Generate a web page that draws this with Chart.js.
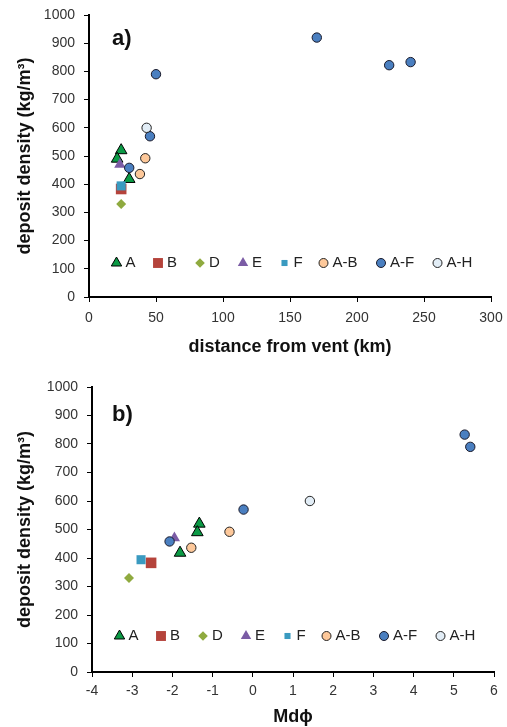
<!DOCTYPE html>
<html><head><meta charset="utf-8">
<script src="https://cdn.jsdelivr.net/npm/chart.js@4.4.0/dist/chart.umd.min.js"></script>
<style>
html,body{margin:0;padding:0;background:#fff;}
#wrap{position:relative;width:507px;height:727px;overflow:hidden;background:#fff;}
canvas{position:absolute;left:0;}
#c1{top:0;} #c2{top:362px;}
.lab{position:absolute;left:112px;font:bold 22px/1 "Liberation Sans",Arial,sans-serif;color:#111;}
</style></head><body>
<div id="wrap">
<canvas id="c1" width="507" height="362"></canvas>
<canvas id="c2" width="507" height="365"></canvas>
<div class="lab" style="top:27px">a)</div>
<div class="lab" style="top:403px">b)</div>
</div>
<script>
// ---- data ----
const seriesNames = ['A','B','D','E','F','A-B','A-F','A-H'];
const densA  = [520, 490, 418];  const distA  = [24, 21, 30];   const mdA  = [-1.33, -1.38, -1.81];
const densB  = [383];            const distB  = [24];           const mdB  = [-2.53];
const densD  = [330];            const distD  = [24];           const mdD  = [-3.08];
const densE  = [470];            const distE  = [23];           const mdE  = [-1.95];
const densF  = [394];            const distF  = [24];           const mdF  = [-2.78];
const densAB = [492, 436];       const distAB = [42, 38];       const mdAB = [-0.58, -1.53];
const densAF = [920, 822, 833, 790, 570, 458];
const distAF = [170, 224, 240, 50, 45.5, 30];
const mdAF   = [null, null, 5.27, 5.41, -0.23, -2.07];
const densAH = [600];            const distAH = [43];           const mdAH = [1.42];

const yTicks = [0,100,200,300,400,500,600,700,800,900,1000];
const distTicks = [0,50,100,150,200,250,300];
const mdTicks = [-4,-3,-2,-1,0,1,2,3,4,5,6];

const dens = [densA, densB, densD, densE, densF, densAB, densAF, densAH];
const dist = [distA, distB, distD, distE, distF, distAB, distAF, distAH];
const md   = [mdA, mdB, mdD, mdE, mdF, mdAB, mdAF, mdAH];

// ---- styles ----
const styles = [
  {ps:'triangle', r:6.7, lr:6,   fill:'#0b9a45', border:'#000', bw:1},
  {ps:'rect',     r:7.5, lr:7,   fill:'#b5433b', border:'#b5433b', bw:0},
  {ps:'rectRot',  r:5,   lr:4.8, fill:'#8faa3f', border:'#8faa3f', bw:0},
  {ps:'triangle', r:6.5, lr:6,   fill:'#7b5ca5', border:'#7b5ca5', bw:0},
  {ps:'rect',     r:6.4, lr:4.3, fill:'#3a9ac0', border:'#3a9ac0', bw:0},
  {ps:'circle',   r:4.7, lr:4.5, fill:'#fdc89a', border:'#222', bw:1},
  {ps:'circle',   r:4.7, lr:4.5, fill:'#4a7fc0', border:'#1a1a2a', bw:1},
  {ps:'circle',   r:4.7, lr:4.5, fill:'#e2edf6', border:'#222', bw:1}
];
const legendOffsets = [27.5, 69, 111, 154, 195.5, 234.5, 292, 348.5];

function pts(xs, ys){
  const out=[];
  xs.forEach((x,i)=>{ if(x!==null && x!==undefined) out.push({x:x, y:ys[i]}); });
  return out;
}

function drawMarker(ctx, style, x, y, r, fill, stroke, bw){
  ctx.beginPath();
  if(style==='circle'){ ctx.arc(x,y,r,0,Math.PI*2); }
  else if(style==='triangle'){ ctx.moveTo(x,y-r); ctx.lineTo(x+r*0.866,y+r*0.5); ctx.lineTo(x-r*0.866,y+r*0.5); ctx.closePath(); }
  else if(style==='rect'){ const s=r*Math.SQRT1_2; ctx.rect(x-s,y-s,2*s,2*s); }
  else if(style==='rectRot'){ ctx.moveTo(x,y-r); ctx.lineTo(x+r,y); ctx.lineTo(x,y+r); ctx.lineTo(x-r,y); ctx.closePath(); }
  ctx.fillStyle=fill; ctx.fill();
  if(bw>0){ ctx.lineWidth=bw; ctx.strokeStyle=stroke; ctx.stroke(); }
}

const legendPlugin = {
  id:'inlineLegend',
  afterDatasetsDraw(chart, args, opts){
    const ctx=chart.ctx, a=chart.chartArea;
    const y=a.bottom-opts.dy;
    ctx.save();
    ctx.font='15px "Liberation Sans", Arial, sans-serif';
    ctx.textBaseline='middle'; ctx.textAlign='left';
    styles.forEach((s,i)=>{
      const x=a.left+legendOffsets[i];
      drawMarker(ctx, s.ps, x, y, s.lr, s.fill, s.border, s.bw);
      ctx.fillStyle='#222';
      ctx.fillText(seriesNames[i], x+9, y);
    });
    ctx.restore();
  }
};

const tickFont = {family:'"Liberation Sans", Arial, sans-serif', size:14};
const titleFont = {family:'"Liberation Sans", Arial, sans-serif', size:18, weight:'bold'};

function makeChart(id, xs, cfg){
  const datasets = seriesNames.map((n,i)=>({
    label:n,
    data: pts(xs[i], dens[i]),
    pointStyle: styles[i].ps,
    pointRadius: styles[i].r,
    pointBackgroundColor: styles[i].fill,
    pointBorderColor: styles[i].border,
    pointBorderWidth: styles[i].bw,
    showLine:false,
    order: seriesNames.length - i
  }));
  return new Chart(document.getElementById(id), {
    type:'scatter',
    data:{datasets},
    plugins:[legendPlugin],
    options:{
      responsive:false, animation:false, devicePixelRatio:1, events:[],
      layout:{padding:cfg.padding},
      plugins:{legend:{display:false}, tooltip:{enabled:false}, inlineLegend:{dy:cfg.legendDy}},
      scales:{
        x:{
          type:'linear', min:cfg.xTicks[0], max:cfg.xTicks[cfg.xTicks.length-1],
          afterBuildTicks: s => { s.ticks = cfg.xTicks.map(v=>({value:v})); },
          afterFit: s => { s.height = cfg.xHeight; s.paddingLeft = 0; s.paddingRight = 0; },
          ticks:{font:tickFont, color:'#333', padding:cfg.xTickPad, maxRotation:0, autoSkip:false,
                 callback: v => String(v)},
          grid:{display:true, drawOnChartArea:false, drawTicks:true, tickLength:5, color:'#000', lineWidth:1},
          border:{display:true, color:'#000', width:2},
          title:{display:true, text:cfg.xTitle, font:titleFont, color:'#111', padding:{top:4,bottom:cfg.xTitlePadB}}
        },
        y:{
          type:'linear', min:0, max:1000,
          afterBuildTicks: s => { s.ticks = yTicks.map(v=>({value:v})); },
          afterFit: s => { s.width = cfg.yWidth; s.paddingTop = 0; s.paddingBottom = 0; },
          ticks:{font:tickFont, color:'#333', padding:9, autoSkip:false, callback: v => String(v)},
          grid:{display:true, drawOnChartArea:false, drawTicks:true, tickLength:5, color:'#000', lineWidth:1},
          border:{display:true, color:'#000', width:2},
          title:{display:true, text:'deposit density (kg/m³)', font:titleFont, color:'#111', padding:{top:14,bottom:4}}
        }
      }
    }
  });
}

makeChart('c1', dist, {
  padding:{left:0, top:15, right:16, bottom:0},
  xTicks: distTicks, xHeight:65, yWidth:89, xTickPad:8, xTitlePadB:4,
  xTitle:'distance from vent (km)', legendDy:34
});
makeChart('c2', md, {
  padding:{left:0, top:25, right:13, bottom:0},
  xTicks: mdTicks, xHeight:55, yWidth:92, xTickPad:6, xTitlePadB:-1,
  xTitle:'Mdϕ', legendDy:36
});
</script>
</body></html>
